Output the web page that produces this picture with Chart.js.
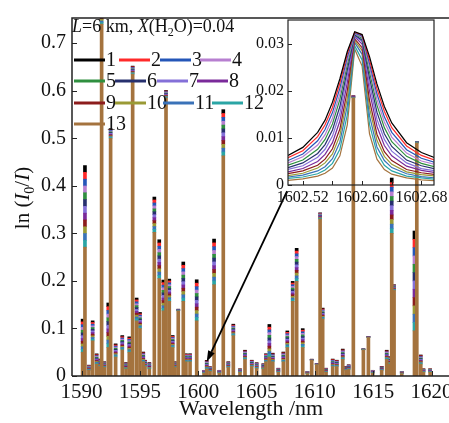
<!DOCTYPE html>
<html><head><meta charset="utf-8">
<script src="https://cdn.jsdelivr.net/npm/chart.js@4"></script>
<style>
html,body{margin:0;padding:0;background:#fff;}
#wrap{position:relative;width:449px;height:423px;overflow:hidden;background:#fff;}
canvas{position:absolute;left:0;top:0;}
</style></head><body>
<div id="wrap"><canvas id="main" width="449" height="423"></canvas><canvas id="inset" width="449" height="423"></canvas></div>
<script>
// ---------- data ----------
const seriesNames = ['1','2','3','4','5','6','7','8','9','10','11','12','13'];
const seriesColors = ['#000000','#ff2a2a','#2456b8','#b77fd0','#2f8f3f','#27306e','#8470d8','#7a2a9a','#8c1c1c','#9a9a35','#3a72b8','#2aa5a5','#a4733e'];

// main spectrum: line positions (nm), height of the brown (series 13) body, and thickness of each coloured band (series 12..1) above it
const peakNm = [1590.09,1590.29,1590.63,1590.95,1591.29,1591.49,1591.72,1591.95,1592.29,1592.49,1592.92,1593.49,1593.81,1594.09,1594.38,1594.72,1595.01,1595.29,1595.44,1595.81,
1596.24,1596.66,1597.01,1597.24,1597.52,1597.81,1598.01,1598.29,1598.72,1598.95,1599.30,1599.87,1600.50,1600.73,1601.01,1601.36,1601.81,1602.15,1602.58,1603.01,
1603.58,1604.01,1604.59,1605.01,1605.58,1605.81,1606.10,1606.39,1606.87,1607.30,1607.64,1608.10,1608.44,1608.96,1609.36,1609.73,1610.16,1610.45,1610.67,1610.96,
1611.53,1611.88,1612.39,1612.68,1612.90,1613.30,1614.16,1614.59,1614.96,1615.73,1616.16,1616.39,1616.59,1616.79,1617.45,1618.54,1618.74,1619.08,1619.31,1619.88];
const peakBody = [0.050,0.271,0.012,0.074,0.025,0.020,0.740,0.018,0.060,0.500,0.040,0.055,0.015,0.050,0.635,0.116,0.100,0.030,0.020,0.015,
0.302,0.205,0.137,0.585,0.157,0.060,0.018,0.137,0.157,0.030,0.030,0.116,0.006,0.015,0.010,0.192,0.006,0.463,0.018,0.085,
0.008,0.035,0.020,0.016,0.015,0.030,0.040,0.030,0.008,0.030,0.060,0.157,0.199,0.060,0.005,0.033,0.024,0.330,0.120,0.008,
0.020,0.020,0.035,0.012,0.014,0.585,0.055,0.081,0.006,0.012,0.035,0.025,0.300,0.180,0.005,0.095,0.490,0.025,0.008,0.008];
const peakBand = [0.0058,0.0143,0.0009,0.0035,0.0018,0.0013,0.0033,0.0010,0.0078,0.0017,0.0023,0.0025,0.0011,0.0027,0.0014,0.0040,0.0028,0.0017,0.0011,0.0011,
0.0062,0.0068,0.0054,0.0013,0.0039,0.0021,0.0010,0.0003,0.0069,0.0014,0.0014,0.0072,0.0005,0.0015,0.0008,0.0080,0.0005,0.0081,0.0010,0.0020,
0.0006,0.0016,0.0011,0.0010,0.0009,0.0014,0.0057,0.0015,0.0007,0.0017,0.0029,0.0035,0.0058,0.0033,0.0004,0.0002,0.0002,0.0011,0.0019,0.0007,
0.0013,0.0011,0.0018,0.0007,0.0008,0.0004,0.0002,0.0002,0.0005,0.0007,0.0016,0.0013,0.0097,0.0010,0.0004,0.0175,0.0003,0.0016,0.0006,0.0006];
const xTickVals = [1590,1595,1600,1605,1610,1615,1620];
const yTickVals = [0,0.1,0.2,0.3,0.4,0.5,0.6,0.7];

// inset (zoom of the line near 1602.6 nm)
const insetNm = [1602.50,1602.52,1602.54,1602.55,1602.56,1602.57,1602.58,1602.59,1602.60,1602.61,1602.62,1602.63,1602.64,1602.66,1602.68,1602.70];
const insetValues = [
 [0.0063,0.0080,0.0112,0.0138,0.0176,0.0226,0.0284,0.0326,0.0320,0.0273,0.0215,0.0167,0.0132,0.0090,0.0069,0.0057],
 [0.0058,0.0073,0.0103,0.0128,0.0165,0.0217,0.0279,0.0325,0.0319,0.0266,0.0205,0.0157,0.0122,0.0083,0.0063,0.0052],
 [0.0052,0.0066,0.0094,0.0118,0.0154,0.0206,0.0272,0.0323,0.0317,0.0258,0.0194,0.0145,0.0112,0.0075,0.0057,0.0047],
 [0.0047,0.0060,0.0085,0.0107,0.0142,0.0194,0.0264,0.0322,0.0315,0.0250,0.0182,0.0134,0.0102,0.0068,0.0051,0.0043],
 [0.0042,0.0053,0.0076,0.0097,0.0130,0.0182,0.0256,0.0321,0.0312,0.0240,0.0170,0.0122,0.0092,0.0061,0.0046,0.0038],
 [0.0037,0.0047,0.0067,0.0086,0.0117,0.0167,0.0245,0.0319,0.0308,0.0228,0.0155,0.0109,0.0082,0.0053,0.0041,0.0034],
 [0.0033,0.0041,0.0059,0.0076,0.0104,0.0152,0.0233,0.0317,0.0305,0.0214,0.0140,0.0097,0.0072,0.0047,0.0035,0.0030],
 [0.0028,0.0035,0.0050,0.0065,0.0090,0.0136,0.0218,0.0315,0.0300,0.0199,0.0125,0.0084,0.0062,0.0040,0.0031,0.0026],
 [0.0024,0.0030,0.0042,0.0055,0.0077,0.0119,0.0201,0.0311,0.0292,0.0180,0.0108,0.0071,0.0052,0.0033,0.0026,0.0022],
 [0.0020,0.0025,0.0036,0.0047,0.0066,0.0105,0.0185,0.0307,0.0286,0.0164,0.0095,0.0061,0.0044,0.0028,0.0022,0.0019],
 [0.0017,0.0021,0.0030,0.0039,0.0056,0.0091,0.0169,0.0303,0.0278,0.0147,0.0081,0.0052,0.0037,0.0024,0.0018,0.0015],
 [0.0014,0.0017,0.0024,0.0032,0.0046,0.0076,0.0149,0.0296,0.0266,0.0129,0.0068,0.0042,0.0030,0.0019,0.0015,0.0012],
 [0.0010,0.0013,0.0019,0.0025,0.0036,0.0062,0.0128,0.0289,0.0253,0.0109,0.0055,0.0033,0.0023,0.0015,0.0011,0.0009]
];
const insetXTickVals = [1602.52,1602.60,1602.68];
const insetXMinorVals = [1602.52,1602.56,1602.60,1602.64,1602.68];
const insetYTickVals = [0,0.01,0.02,0.03];

// arrow from inset corner to the enlarged line (data coordinates of main plot)
const arrowTail = [1607.62, 0.389];
const arrowTip = [1600.73, 0.030];

// ---------- drawing ----------
const serif = "'Liberation Serif','Times New Roman','DejaVu Serif',serif";
Chart.defaults.font.family = serif;
Chart.defaults.color = '#111';

function richText(ctx, parts, x, y, size, align) {
  const fontFor = s => (s === 'i' ? 'italic ' : '') + (s === 'sub' ? Math.round(size * 0.66) : size) + 'px ' + serif;
  let w = 0;
  parts.forEach(([t, s]) => { ctx.font = fontFor(s); w += ctx.measureText(t).width; });
  let cx = align === 'center' ? x - w / 2 : x;
  ctx.textAlign = 'left';
  parts.forEach(([t, s]) => {
    ctx.font = fontFor(s);
    ctx.fillText(t, cx, s === 'sub' ? y + size * 0.24 : y);
    cx += ctx.measureText(t).width;
  });
}

const mainDecor = {
  id: 'mainDecor',
  afterDatasetsDraw(chart) {
    const {ctx, chartArea: a, scales: {x, y}} = chart;
    ctx.save();
    ctx.strokeStyle = '#222';
    ctx.lineWidth = 1.5;
    ctx.beginPath();
    ctx.moveTo(a.left, a.bottom); ctx.lineTo(a.left, a.top); ctx.lineTo(chart.width, a.top);
    ctx.moveTo(a.left, a.bottom); ctx.lineTo(chart.width, a.bottom);
    ctx.stroke();
    ctx.lineWidth = 1;
    ctx.beginPath();
    xTickVals.forEach(v => { const p = Math.round(x.getPixelForValue(v)) + 0.5; ctx.moveTo(p, a.bottom); ctx.lineTo(p, a.bottom - 5); });
    yTickVals.forEach(v => { const p = Math.round(y.getPixelForValue(v)) + 0.5; ctx.moveTo(a.left, p); ctx.lineTo(a.left + 5, p); });
    ctx.stroke();
    ctx.restore();
  },
  afterDraw(chart) {
    const {ctx, scales: {x, y}} = chart;
    ctx.save();
    ctx.fillStyle = '#111';
    ctx.textBaseline = 'alphabetic';
    // annotation text
    richText(ctx, [['L','i'],['=6 km, ',''],['X','i'],['(H',''],['2','sub'],['O)=0.04','']], 72, 32, 18, 'left');
    // legend
    const pos = [[74,60],[119,60],[160,60],[200,60],[74,81],[115,81],[157,81],[197,81],[74,103],[115,103],[163,103],[212,103],[74,124]];
    seriesNames.forEach((n, i) => {
      const [lx, ly] = pos[i];
      ctx.strokeStyle = seriesColors[i];
      ctx.lineWidth = 3;
      ctx.beginPath(); ctx.moveTo(lx, ly); ctx.lineTo(lx + 31, ly); ctx.stroke();
      ctx.fillStyle = '#111';
      ctx.font = '20px ' + serif;
      ctx.textBaseline = 'middle';
      ctx.textAlign = 'left';
      ctx.fillText(n, lx + 32, ly + 1);
    });
    // x title
    ctx.font = '22px ' + serif;
    ctx.textAlign = 'center';
    ctx.textBaseline = 'middle';
    ctx.fillText('Wavelength /nm', 251, 409);
    // y title (rotated, with subscript)
    ctx.textBaseline = 'alphabetic';
    ctx.translate(29, 198);
    ctx.rotate(-Math.PI / 2);
    richText(ctx, [['ln (',''],['I','i'],['0','sub'],['/',''],['I','i'],[')','']], 0, 0, 21, 'center');
    ctx.setTransform(1, 0, 0, 1, 0, 0);
    // arrow
    const tx = x.getPixelForValue(arrowTail[0]), ty = y.getPixelForValue(arrowTail[1]);
    const hx = x.getPixelForValue(arrowTip[0]), hy = y.getPixelForValue(arrowTip[1]);
    const ang = Math.atan2(hy - ty, hx - tx);
    const L = 11, W = 3.6;
    const bx = hx - L * Math.cos(ang), by = hy - L * Math.sin(ang);
    ctx.strokeStyle = '#000'; ctx.fillStyle = '#000'; ctx.lineWidth = 1.8;
    ctx.beginPath(); ctx.moveTo(tx, ty); ctx.lineTo(bx, by); ctx.stroke();
    ctx.beginPath();
    ctx.moveTo(hx, hy);
    ctx.lineTo(bx + W * Math.sin(ang), by - W * Math.cos(ang));
    ctx.lineTo(bx - W * Math.sin(ang), by + W * Math.cos(ang));
    ctx.closePath(); ctx.fill();
    ctx.restore();
  }
};

// brown (13) at the bottom of each stack, then bands 12 .. 1 on top
const stackOrder = [12,11,10,9,8,7,6,5,4,3,2,1,0];
const mainDatasets = stackOrder.map(i => ({
  label: seriesNames[i],
  data: peakNm.map((nm, j) => ({x: nm, y: i === 12 ? peakBody[j] : peakBand[j]})),
  backgroundColor: seriesColors[i],
  borderWidth: 0,
  barThickness: 3
}));

new Chart(document.getElementById('main'), {
  type: 'bar',
  data: {datasets: mainDatasets},
  options: {
    responsive: false, animation: false, devicePixelRatio: 1,
    layout: {padding: {top: 12, left: 0, right: 0, bottom: 0}},
    plugins: {legend: {display: false}, tooltip: {enabled: false}},
    scales: {
      x: {
        type: 'linear', stacked: true, offset: false, min: 1589.18, max: 1621.5,
        grid: {display: false, drawTicks: false}, border: {display: false},
        ticks: {font: {size: 21}, padding: 4, color: '#111', maxRotation: 0, autoSkip: false, callback: v => String(v)},
        afterBuildTicks: s => { s.ticks = xTickVals.map(v => ({value: v})); },
        afterFit: s => { s.height = 47; s.paddingLeft = 0; s.paddingRight = 0; }
      },
      y: {
        type: 'linear', stacked: true, min: 0, max: 0.753,
        grid: {display: false, drawTicks: false}, border: {display: false},
        ticks: {font: {size: 20}, padding: 6, color: '#111', callback: v => v === 0 ? '0' : v.toFixed(1)},
        afterBuildTicks: s => { s.ticks = yTickVals.map(v => ({value: v})); },
        afterFit: s => { s.width = 72; }
      }
    }
  },
  plugins: [mainDecor]
});

const insetDecor = {
  id: 'insetDecor',
  afterDatasetsDraw(chart) {
    const {ctx, chartArea: a, scales: {x, y}} = chart;
    ctx.save();
    ctx.strokeStyle = '#222';
    ctx.lineWidth = 1.2;
    ctx.strokeRect(a.left, a.top, a.right - a.left, a.bottom - a.top);
    ctx.lineWidth = 1;
    ctx.beginPath();
    insetXMinorVals.forEach(v => { const p = Math.round(x.getPixelForValue(v)) + 0.5; ctx.moveTo(p, a.bottom); ctx.lineTo(p, a.bottom - 4); });
    insetYTickVals.forEach(v => { const p = Math.round(y.getPixelForValue(v)) + 0.5; ctx.moveTo(a.left, p); ctx.lineTo(a.left + 4, p); });
    ctx.stroke();
    ctx.restore();
  }
};

new Chart(document.getElementById('inset'), {
  type: 'line',
  data: {
    datasets: seriesNames.map((n, i) => ({
      label: n,
      data: insetNm.map((nm, j) => ({x: nm, y: insetValues[i][j]})),
      borderColor: seriesColors[i],
      borderWidth: 1.2,
      pointRadius: 0,
      fill: false,
      tension: 0
    }))
  },
  options: {
    responsive: false, animation: false, devicePixelRatio: 1,
    layout: {padding: {left: 248, top: 20, right: 15, bottom: 214}},
    plugins: {legend: {display: false}, tooltip: {enabled: false}},
    scales: {
      x: {
        type: 'linear', min: 1602.50, max: 1602.697,
        grid: {display: false, drawTicks: false}, border: {display: false},
        ticks: {font: {size: 16}, padding: 3, color: '#111', maxRotation: 0, autoSkip: false, callback: v => v.toFixed(2)},
        afterBuildTicks: s => { s.ticks = insetXTickVals.map(v => ({value: v})); },
        afterFit: s => { s.height = 24; s.paddingLeft = 0; s.paddingRight = 0; }
      },
      y: {
        type: 'linear', min: 0, max: 0.0351,
        grid: {display: false, drawTicks: false}, border: {display: false},
        ticks: {font: {size: 16}, padding: 4, color: '#111', callback: v => v === 0 ? '0' : v.toFixed(2)},
        afterBuildTicks: s => { s.ticks = insetYTickVals.map(v => ({value: v})); },
        afterFit: s => { s.width = 40; }
      }
    }
  },
  plugins: [insetDecor]
});
</script>
</body></html>
